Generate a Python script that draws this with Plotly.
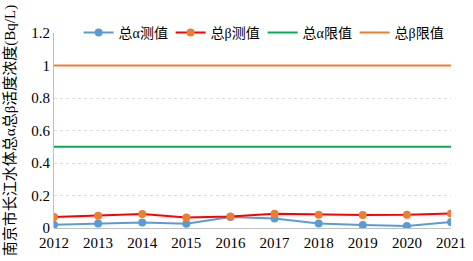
import plotly.graph_objects as go

years = [2012, 2013, 2014, 2015, 2016, 2017, 2018, 2019, 2020, 2021]
alpha_vals = [0.020, 0.028, 0.034, 0.026, 0.068, 0.058, 0.028, 0.018, 0.012, 0.037]
beta_vals = [0.068, 0.076, 0.086, 0.065, 0.071, 0.088, 0.082, 0.080, 0.082, 0.090]
alpha_limit = [0.5] * len(years)
beta_limit = [1.0] * len(years)
names = ["总α测值", "总β测值", "总α限值", "总β限值"]
y_title = "南京市长江水体总α总β活度浓度(Bq/L)"
y_ticks = [0, 0.2, 0.4, 0.6, 0.8, 1, 1.2]

font_fam = "Liberation Serif, Noto Sans CJK SC, serif"

fig = go.Figure()
fig.add_trace(go.Scatter(x=years, y=alpha_vals, name=names[0], mode="lines+markers",
                         line=dict(color="#5B9BD5", width=2),
                         marker=dict(color="#5B9BD5", size=8)))
fig.add_trace(go.Scatter(x=years, y=beta_vals, name=names[1], mode="lines+markers",
                         line=dict(color="#FF0000", width=2),
                         marker=dict(color="#ED7D31", size=8)))
fig.add_trace(go.Scatter(x=years, y=alpha_limit, name=names[2], mode="lines",
                         line=dict(color="#00B050", width=2)))
fig.add_trace(go.Scatter(x=years, y=beta_limit, name=names[3], mode="lines",
                         line=dict(color="#ED7D31", width=2)))

fig.update_layout(
    width=473, height=261,
    margin=dict(l=54, r=22, t=33, b=33),
    paper_bgcolor="white", plot_bgcolor="white",
    font=dict(family=font_fam, size=15, color="#000000"),
    showlegend=True,
    legend=dict(orientation="h", x=0.062, y=1.0, xanchor="left", yanchor="middle",
                bgcolor="rgba(0,0,0,0)", font=dict(size=14, family=font_fam),
                entrywidth=47, entrywidthmode="pixels", itemwidth=30, tracegroupgap=0),
)
fig.update_xaxes(range=[2012, 2021], tickmode="array", tickvals=years,
                 ticktext=[str(y) for y in years], showgrid=False, zeroline=False,
                 showline=False, ticks="", tickfont=dict(size=15), automargin=False,
                 ticklabelstandoff=4)
fig.update_yaxes(range=[0, 1.2], tickmode="array", tickvals=y_ticks,
                 ticktext=["0", "0.2", "0.4", "0.6", "0.8", "1", "1.2"],
                 showgrid=True, gridcolor="#DDDDDD", griddash="dot", gridwidth=1,
                 zeroline=True, zerolinecolor="#BFBFBF", zerolinewidth=1,
                 showline=True, linecolor="#BFBFBF", linewidth=1, ticks="",
                 tickfont=dict(size=15), automargin=False,
                 title=dict(text=y_title, font=dict(size=15, family=font_fam), standoff=12))

fig.write_html("out.html", config={"displayModeBar": False},
               post_script="document.body.style.margin='0';")
